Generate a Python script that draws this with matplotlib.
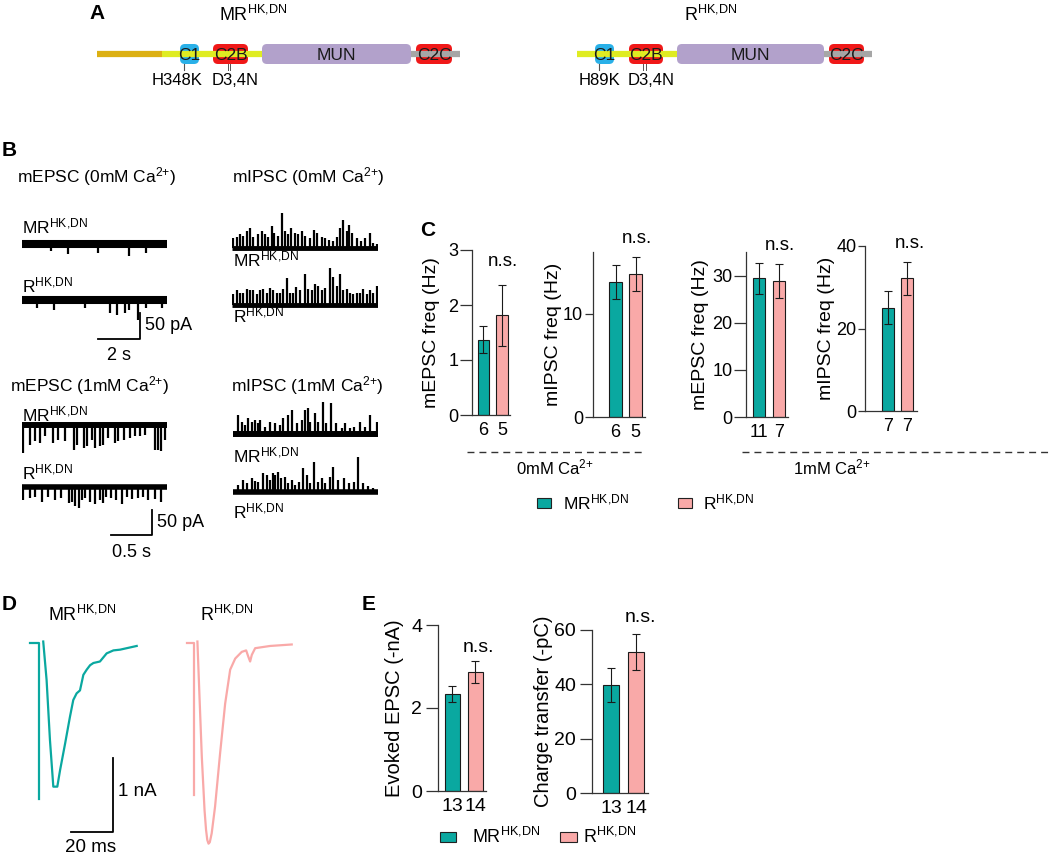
import numpy as np
import matplotlib.pyplot as plt
import matplotlib.transforms as mtransforms
from matplotlib.patches import FancyBboxPatch, Rectangle

W, H = 1050, 857
plt.rcParams['font.family'] = ['Liberation Sans', 'DejaVu Sans']
plt.rcParams['mathtext.fontset'] = 'custom'
plt.rcParams['mathtext.rm'] = 'Liberation Sans'
plt.rcParams['mathtext.it'] = 'Liberation Sans:italic'
plt.rcParams['mathtext.bf'] = 'Liberation Sans:bold'
plt.rcParams['font.size'] = 12.5

TEAL = '#0aa8a0'
PINK = '#f9a9a8'
MR = 'MR$^{\\mathrm{HK{,}DN}}$'
R = 'R$^{\\mathrm{HK{,}DN}}$'
CA = 'Ca$^{\\mathrm{2{+}}}$'

# ---- panel A: domain maps
domain_names = ['C1', 'C2B', 'MUN', 'C2C']
domain_colors = ['#29b0e8', '#f01818', '#b2a1cb', '#f01818']
mr_dom_x0 = [180, 213, 262, 416]
mr_dom_x1 = [199, 248, 411, 452]
r_dom_x0 = [595, 629, 677, 829]
r_dom_x1 = [614, 663, 824, 864]
mr_mutations = ['H348K', 'D3,4N']
r_mutations = ['H89K', 'D3,4N']

# ---- panel B: minis (spike time s, amplitude pA)
mepsc0_mr_t = [1.4, 2.2, 3.6, 5.1, 5.9]
mepsc0_mr_a = [-13, -19, -17, -23, -17]
mepsc0_r_t = [0.7, 1.5, 3.0, 4.2, 4.5, 4.9, 5.1, 5.5, 5.9, 6.65]
mepsc0_r_a = [-15, -19, -15, -25, -29, -25, -19, -38, -15, -15]

mipsc0_mr_t = [0.06, 0.22, 0.38, 0.54, 0.70, 0.86, 1.02, 1.25, 1.41, 1.57,
               1.73, 1.89, 2.02, 2.21, 2.37, 2.52, 2.68, 2.81, 3.00, 3.16,
               3.32, 3.48, 3.71, 3.92, 4.03, 4.27, 4.43, 4.62, 4.82, 4.98,
               5.14, 5.30, 5.46, 5.57, 5.73, 5.94, 6.16, 6.33, 6.57, 6.73, 6.89]
mipsc0_mr_a = [19, 22, 27, 24, 32, 38, 22, 26, 33, 26,
               22, 42, 29, 24, 67, 32, 26, 38, 29, 26,
               32, 24, 19, 35, 29, 22, 19, 16, 13, 22,
               38, 54, 32, 45, 29, 19, 13, 19, 29, 10, 8]
mipsc0_r_t = [0.06, 0.22, 0.38, 0.54, 0.70, 0.86, 1.02, 1.17, 1.33, 1.49,
              1.65, 1.81, 1.97, 2.13, 2.29, 2.44, 2.60, 2.76, 2.92, 3.03,
              3.24, 3.48, 3.63, 3.79, 3.95, 4.11, 4.27, 4.43, 4.67, 4.83,
              4.98, 5.14, 5.30, 5.46, 5.62, 5.78, 5.94, 6.10, 6.25, 6.41,
              6.57, 6.73, 6.89]
mipsc0_r_a = [21, 28, 24, 23, 31, 28, 28, 21, 28, 31,
              23, 32, 28, 24, 23, 31, 51, 24, 23, 34,
              28, 60, 31, 28, 40, 37, 28, 32, 71, 53,
              37, 60, 28, 31, 23, 21, 24, 24, 31, 21,
              28, 23, 37]

mepsc1_mr_t = [0.016, 0.098, 0.159, 0.22, 0.28, 0.38, 0.44, 0.52, 0.63, 0.67,
               0.75, 0.79, 0.85, 0.89, 0.95, 0.99, 1.05, 1.13, 1.17, 1.24,
               1.32, 1.38, 1.44, 1.50, 1.62, 1.66, 1.70, 1.74]
mepsc1_mr_a = [-57, -40, -33, -37, -23, -37, -30, -33, -50, -40,
               -47, -43, -30, -47, -43, -40, -27, -37, -33, -30,
               -27, -23, -23, -20, -50, -50, -53, -30]
mepsc1_r_t = [0.016, 0.098, 0.159, 0.24, 0.32, 0.40, 0.48, 0.57, 0.61, 0.65,
              0.69, 0.73, 0.77, 0.83, 0.89, 0.95, 0.99, 1.03, 1.09, 1.15,
              1.22, 1.28, 1.34, 1.42, 1.48, 1.54, 1.62, 1.70]
mepsc1_r_a = [-25, -22, -19, -29, -19, -25, -22, -32, -29, -39,
              -42, -25, -22, -29, -35, -25, -32, -20, -22, -25,
              -35, -19, -24, -22, -20, -25, -24, -29]

mipsc1_mr_t = [0.065, 0.106, 0.146, 0.187, 0.228, 0.268, 0.309, 0.329, 0.39, 0.45,
               0.51, 0.57, 0.61, 0.67, 0.72, 0.78, 0.84, 0.88, 0.91, 0.94,
               1.00, 1.04, 1.10, 1.14, 1.20, 1.26, 1.33, 1.37, 1.43, 1.47,
               1.55, 1.61, 1.67, 1.75]
mipsc1_mr_a = [39, 25, 19, 32, 25, 29, 22, 29, 15, 25,
               22, 19, 32, 39, 49, 22, 29, 49, 52, 25,
               42, 25, 65, 22, 62, 22, 12, 22, 12, 15,
               25, 15, 39, 25]
mipsc1_r_t = [0.065, 0.126, 0.167, 0.228, 0.268, 0.309, 0.37, 0.41, 0.45, 0.49,
              0.51, 0.55, 0.59, 0.63, 0.67, 0.72, 0.76, 0.80, 0.85, 0.90,
              0.94, 0.99, 1.04, 1.08, 1.12, 1.18, 1.22, 1.28, 1.35, 1.41,
              1.47, 1.53, 1.59, 1.65, 1.71]
mipsc1_r_a = [15, 25, 18, 28, 23, 20, 38, 35, 25, 38,
              35, 41, 28, 31, 18, 25, 15, 21, 48, 35,
              18, 61, 21, 28, 18, 31, 51, 25, 28, 18,
              21, 71, 18, 13, 8]

# ---- panel C: frequencies
c_ylabels = ['mEPSC freq (Hz)', 'mIPSC freq (Hz)', 'mEPSC freq (Hz)', 'mIPSC freq (Hz)']
c_means = [[1.37, 1.81], [13.1, 13.85], [29.4, 28.8], [25.0, 32.2]]
c_sems = [[0.25, 0.56], [1.65, 1.65], [3.3, 3.6], [4.0, 4.0]]
c_n = [['6', '5'], ['6', '5'], ['11', '7'], ['7', '7']]
c_ymax = [3, 16, 35, 40]
c_yticks = [[0, 1, 2, 3], [0, 10], [0, 10, 20, 30], [0, 20, 40]]

# ---- panel D: evoked EPSC traces (ms, nA)
d_mr_art_t = [0, 4.3, 4.3]
d_mr_art_i = [0, 0, -2.1]
d_mr_t = [6.3, 7.9, 9.5, 11.1, 13.0, 14.3, 16.7, 19.0, 20.6, 22.2, 23.8, 25.4,
          27.0, 28.6, 30.2, 33.3, 36.5, 39.7, 42.9, 50.8]
d_mr_i = [0.02, -0.50, -1.31, -1.94, -1.94, -1.72, -1.36, -1.0, -0.77, -0.68,
          -0.64, -0.43, -0.36, -0.30, -0.27, -0.25, -0.14, -0.10, -0.09, -0.04]
d_r_art_t = [0, 3.3, 3.3]
d_r_art_i = [0, 0, -2.05]
d_r_t = [4.9, 5.9, 7.0, 8.3, 9.0, 9.6, 10.2, 10.8, 11.7, 13.3, 15.7, 18.1, 20.5, 22.9,
         26.0, 28.1, 29.2, 30.0, 30.8, 32.4, 39.5, 49.8]
d_r_i = [0.02, -0.73, -1.54, -2.26, -2.52, -2.66, -2.71, -2.69, -2.57, -2.21, -1.49, -0.82,
         -0.36, -0.21, -0.12, -0.10, -0.19, -0.25, -0.16, -0.07, -0.04, -0.02]

# ---- panel E
e_ylabels = ['Evoked EPSC (-nA)', 'Charge transfer (-pC)']
e_means = [[2.34, 2.87], [39.7, 51.8]]
e_sems = [[0.2, 0.27], [6.3, 6.6]]
e_n = [['13', '14'], ['13', '14']]
e_ymax = [4, 60]
e_yticks = [[0, 2, 4], [0, 20, 40, 60]]

fig = plt.figure(figsize=(W / 100, H / 100), dpi=100)


def px_axes(x0, y0, x1, y1):
    return fig.add_axes([x0 / W, 1 - y1 / H, (x1 - x0) / W, (y1 - y0) / H])


ov = px_axes(0, 0, W, H)
ov.set_xlim(0, W)
ov.set_ylim(H, 0)
ov.axis('off')


def txt(x, y, s, **kw):
    kw.setdefault('va', 'center')
    ov.text(x, y, s, **kw)


# panel letters
for lab, x, y in [('A', 97, 13), ('B', 9, 150), ('C', 428, 230), ('D', 9, 605), ('E', 369, 605)]:
    txt(x, y, lab, ha='center', fontsize=15, fontweight='bold')

# ---- A
def construct(backbone, x0s, x1s, muts, mut_x):
    for a, b, c in backbone:
        ov.plot([a, b], [54, 54], color=c, lw=4.5, solid_capstyle='butt')
    for name, a, b, c in zip(domain_names, x0s, x1s, domain_colors):
        ov.add_patch(FancyBboxPatch((a, 44), b - a, 20, boxstyle='round,pad=0,rounding_size=5',
                                    fc=c, ec='none'))
        ov.text((a + b) / 2, 55, name, ha='center', va='center', fontsize=12.5, color='#1a1a1a')
    c1 = (x0s[0] + x1s[0]) / 2 - 6
    ov.plot([c1, c1], [64, 70], color='#555', lw=0.8)
    c2 = (x0s[1] + x1s[1]) / 2 - 1.5
    for dx in (-1.2, 1.2):
        ov.plot([c2 + dx, c2 + dx], [64, 70], color='#555', lw=0.7)
    for m, x in zip(muts, mut_x):
        txt(x, 80, m, ha='center', fontsize=12)


construct([(97, 162, '#dcb013'), (162, 262, '#dfec22'), (411, 460, '#a6a6a6')],
          mr_dom_x0, mr_dom_x1, mr_mutations, [177, 235])
construct([(577, 677, '#dfec22'), (824, 872, '#a6a6a6')],
          r_dom_x0, r_dom_x1, r_mutations, [600, 651])
txt(253, 15, MR, ha='center', fontsize=13)
txt(711, 15, R, ha='center', fontsize=13)

# ---- B
def trace(x0, ybase, px_s, px_pA, dur, t, a, band):
    a = np.asarray(a, float)
    top = max(a.max(), 0) + 10
    bot = max(-a.min(), 0) + 10
    ax = px_axes(x0, ybase - top * px_pA, x0 + dur * px_s, ybase + bot * px_pA)
    ax.set_xlim(0, dur)
    ax.set_ylim(-bot, top)
    ax.axis('off')
    ax.plot([0, dur], [0, 0], color='k', lw=band, solid_capstyle='butt')
    ax.vlines(t, 0, a, color='k', lw=1.6)
    return ax


def scalebar(ax, xr, yb, dx, dy, xl, yl, ylab_dx, xlab_dy):
    ax.plot([xr - dx, xr, xr], [yb, yb, yb + dy], color='k', lw=1.3, clip_on=False)
    ax.text(xr + ylab_dx, yb + dy / 2, yl, ha='left', va='center', fontsize=13, clip_on=False)
    ax.text(xr - dx / 2, yb + xlab_dy, xl, ha='center', va='center', fontsize=13, clip_on=False)


trace(22, 244, 21, 0.52, 6.9, mepsc0_mr_t, mepsc0_mr_a, 5.8)
axr = trace(22, 300, 21, 0.52, 6.9, mepsc0_r_t, mepsc0_r_a, 5.8)
scalebar(axr, 5.62, -75, 2, 50, '2 s', '50 pA', 0.25, -31)
trace(232, 248, 21, 0.52, 6.95, mipsc0_mr_t, mipsc0_mr_a, 3.5)
trace(232, 305, 21, 0.52, 6.95, mipsc0_r_t, mipsc0_r_a, 3.5)

trace(22, 425, 82, 0.5, 1.77, mepsc1_mr_t, mepsc1_mr_a, 4.3)
axr = trace(22, 487, 82, 0.5, 1.77, mepsc1_r_t, mepsc1_r_a, 4)
scalebar(axr, 1.585, -96, 0.5, 50, '0.5 s', '50 pA', 0.06, -36)
trace(233, 434, 82, 0.5, 1.77, mipsc1_mr_t, mipsc1_mr_a, 4.3)
trace(233, 492, 82, 0.5, 1.77, mipsc1_r_t, mipsc1_r_a, 4)

txt(17, 177, 'mEPSC (0mM ' + CA + ')')
txt(232, 177, 'mIPSC (0mM ' + CA + ')')
txt(10, 386, 'mEPSC (1mM ' + CA + ')')
txt(231, 386, 'mIPSC (1mM ' + CA + ')')
for x, y, s in [(22, 226, MR), (22, 285, R), (233, 259, MR), (233, 315, R),
                (22, 414, MR), (22, 472, R), (233, 455, MR), (233, 511, R)]:
    txt(x, y, s)

# ---- C and E bar charts
def bars(box, xlim, means, sems, ns, ymax, yticks, ylabel, width, label_x, tlen, fs, lfs, tpad):
    ax = px_axes(*box)
    ax.bar([0, 1], means, width=width, color=[TEAL, PINK], edgecolor='#1a1a1a', linewidth=0.8,
           yerr=sems, error_kw=dict(ecolor='#1a1a1a', elinewidth=0.8, capsize=3.2, capthick=0.8))
    ax.set_xlim(*xlim)
    ax.set_ylim(0, ymax)
    ax.set_yticks(yticks)
    ax.set_xticks([0, 1], ns)
    ax.tick_params(axis='x', length=0, pad=5, labelsize=fs)
    ax.tick_params(axis='y', length=tlen, width=0.9, color='#333', pad=tpad, labelsize=fs)
    for s in ['top', 'right']:
        ax.spines[s].set_visible(False)
    for s in ['left', 'bottom']:
        ax.spines[s].set_linewidth(0.9)
        ax.spines[s].set_color('#333')
    ax.set_ylabel(ylabel, fontsize=lfs)
    tr = mtransforms.blended_transform_factory(ov.transData, ax.transAxes)
    ax.yaxis.set_label_coords(label_x, 0.5, transform=tr)
    ax.patch.set_alpha(0)
    return ax


c_boxes = [(472, 250, 510, 415), (593, 252, 645, 417), (746, 252, 788, 417), (865, 246, 917, 411)]
c_xlims = [(-0.62, 1.43), (-1.125, 1.475), (-0.65, 1.45), (-1.21, 1.53)]
c_widths = [0.62, 0.65, 0.6, 0.63]
c_label_x = [440, 562, 709, 835]
c_ticklen = [8.5, 6, 8.5, 5]
for i in range(4):
    bars(c_boxes[i], c_xlims[i], c_means[i], c_sems[i], c_n[i], c_ymax[i], c_yticks[i],
         c_ylabels[i], c_widths[i], c_label_x[i], c_ticklen[i], 13, 14, 1.2)
for x, y in [(503, 261), (637, 238), (780, 245), (910, 243)]:
    txt(x, y, 'n.s.', ha='center', fontsize=13.5)

ov.plot([467, 645], [452, 452], color='#333', lw=1, ls=(0, (5, 3.6)))
ov.plot([742, 1048], [452, 452], color='#333', lw=1, ls=(0, (5, 3.6)))
txt(555, 467, '0mM ' + CA, ha='center', fontsize=12)
txt(832, 467, '1mM ' + CA, ha='center', fontsize=12)

ov.add_patch(Rectangle((537, 498), 14, 10, fc=TEAL, ec='#222', lw=0.8))
txt(563, 502, MR, fontsize=12.5)
ov.add_patch(Rectangle((678, 498), 14, 10, fc=PINK, ec='#222', lw=0.8))
txt(703, 502, R, fontsize=12.5)

e_boxes = [(438, 625, 486, 791), (592, 630, 648, 793)]
e_xlims = [(-0.63, 1.46), (-0.76, 1.48)]
e_widths = [0.65, 0.64]
e_label_x = [404, 553]
for i in range(2):
    bars(e_boxes[i], e_xlims[i], e_means[i], e_sems[i], e_n[i], e_ymax[i], e_yticks[i],
         e_ylabels[i], e_widths[i], e_label_x[i], 9, 14, 14.5, 2.5)
txt(478, 647, 'n.s.', ha='center', fontsize=14)
txt(640, 618, 'n.s.', ha='center', fontsize=14)

ov.add_patch(Rectangle((440, 832), 16, 10, fc=TEAL, ec='#222', lw=0.8))
txt(472, 837, MR, fontsize=13)
ov.add_patch(Rectangle((560, 832), 17, 10, fc=PINK, ec='#222', lw=0.8))
txt(583, 837, R, fontsize=13)

# ---- D
axd = px_axes(20, 635, 310, 857)
axd.set_xlim(-4.76, 133.3)
axd.set_ylim(-2.89, 0.108)
axd.axis('off')
r_shift = 74.8
axd.plot(d_mr_art_t, d_mr_art_i, color=TEAL, lw=1.6)
axd.plot(d_mr_t, d_mr_i, color=TEAL, lw=1.6)
axd.plot(np.array(d_r_art_t) + r_shift, d_r_art_i, color=PINK, lw=1.6)
axd.plot(np.array(d_r_t) + r_shift, d_r_i, color=PINK, lw=1.6)
axd.plot([19.5, 39.5, 39.5], [-2.554, -2.554, -1.554], color='k', lw=1.3, clip_on=False)
axd.text(41.9, -2.01, '1 nA', ha='left', va='center', fontsize=13.5)
axd.text(28.6, -2.76, '20 ms', ha='center', va='center', fontsize=13.5, clip_on=False)
txt(82, 615, MR, ha='center', fontsize=13)
txt(227, 615, R, ha='center', fontsize=13)

fig.savefig('out.png', dpi=100)
